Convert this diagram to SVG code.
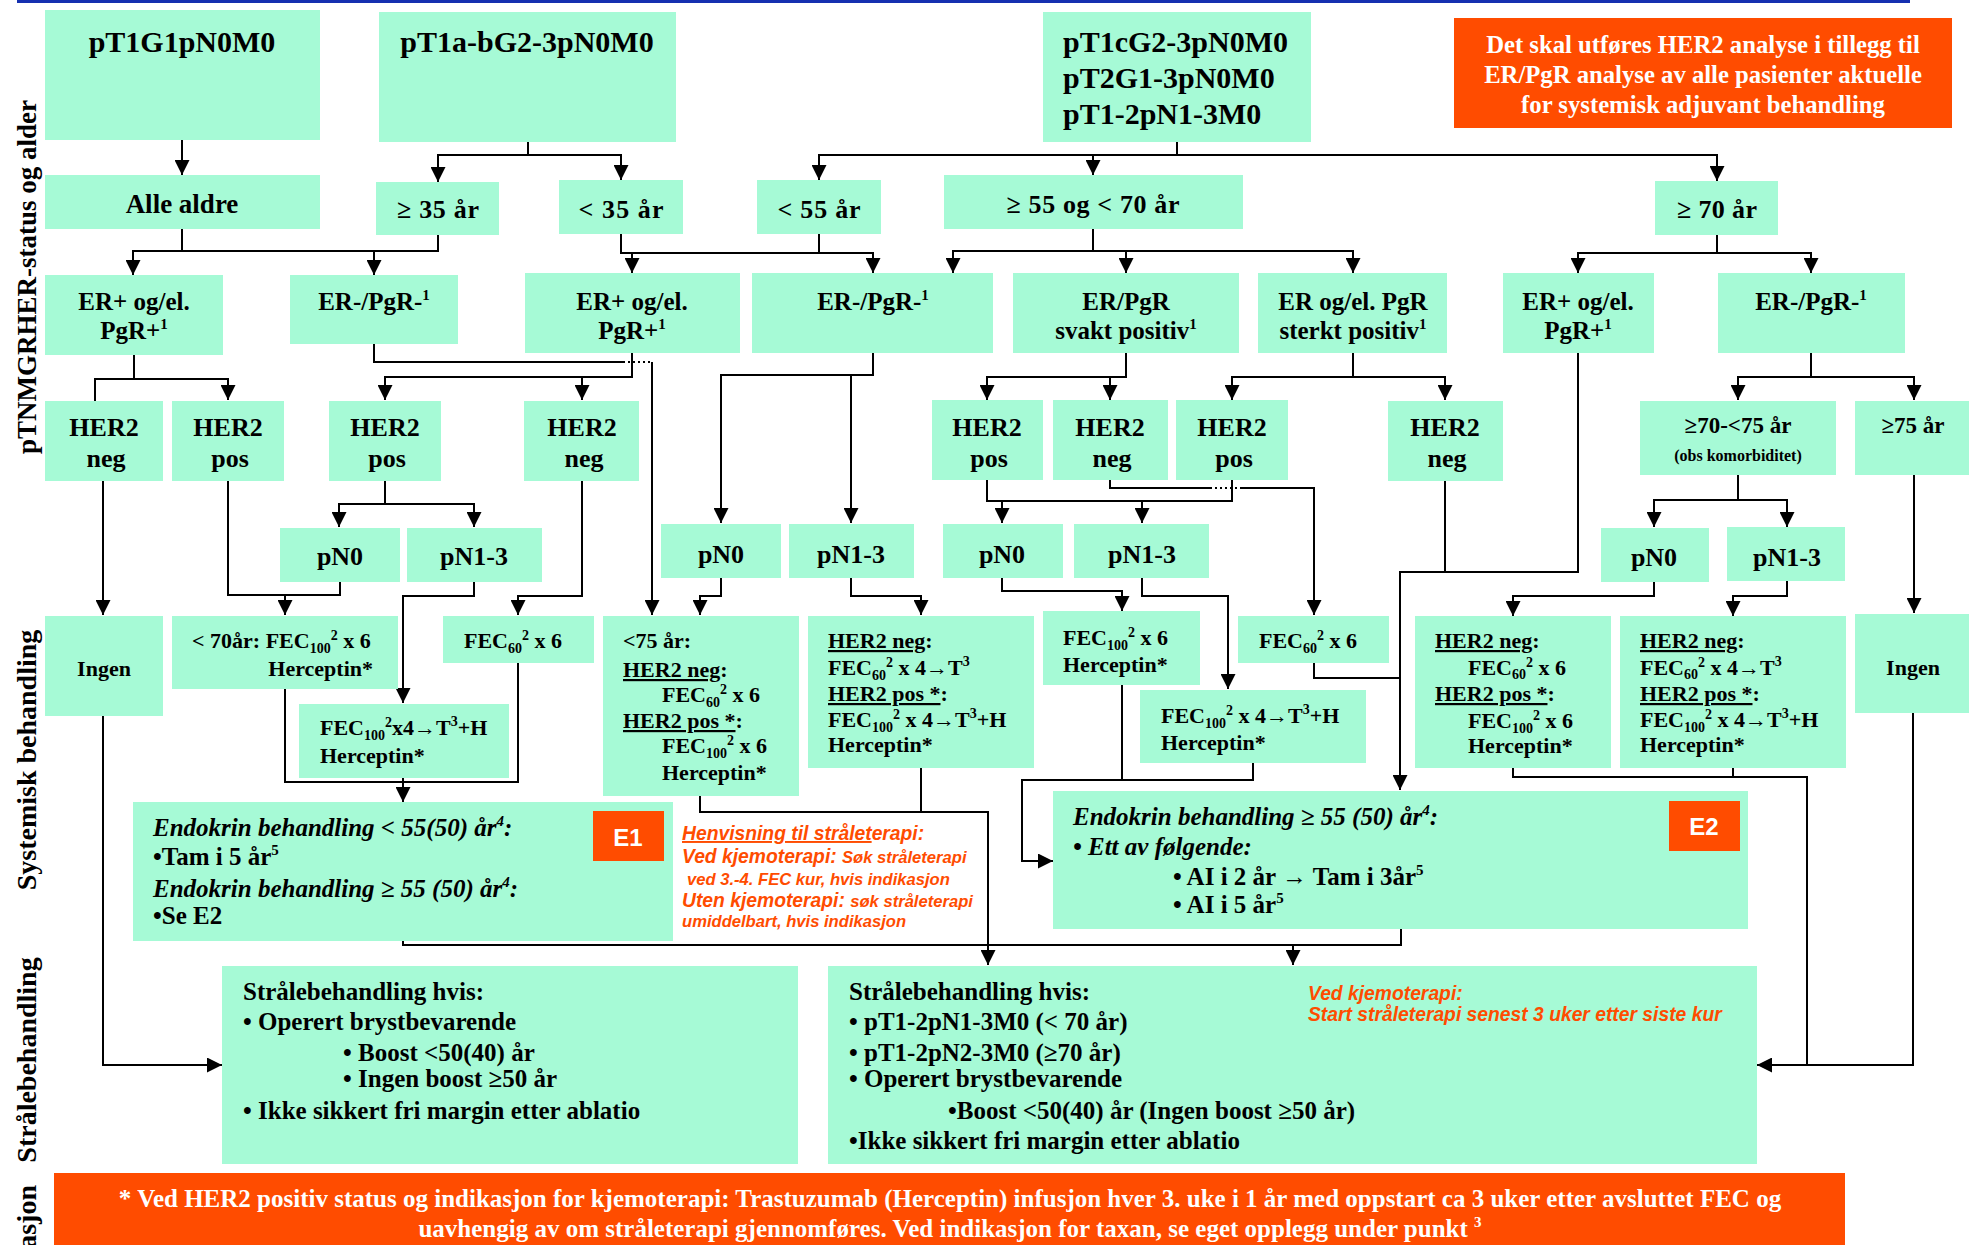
<svg xmlns="http://www.w3.org/2000/svg" width="1969" height="1245" viewBox="0 0 1969 1245">
<style>
.n{fill:#A6FAD6}
.o{fill:#FF4C00}
text{font-family:"Liberation Serif","Times New Roman",serif;font-weight:bold;fill:#000}
.c{text-anchor:middle}
.w{fill:#fff}
.i{font-style:italic}
.a{font-family:"Liberation Sans",Arial,sans-serif}
.r{fill:#FF4C00}
.t30{font-size:30px}.t27{font-size:27px}.t26{font-size:26px}.t25{font-size:25px}.t24{font-size:24.7px}.t22{font-size:22px}
.tb{font-size:25px}
.rl{font-size:19.3px}.rs{font-size:16.6px}
.u{text-decoration:underline}
#connectors path{fill:none;stroke:#000;stroke-width:2}
#connectors .dot{stroke-dasharray:2 3}
</style>
<defs>
<marker id="ar" markerUnits="userSpaceOnUse" markerWidth="15" markerHeight="15" refX="15" refY="7.5" orient="auto">
<path d="M0,0 L15,7.5 L0,15 z" fill="#000"/>
</marker>
</defs>
<rect x="17" y="0" width="1893" height="3" fill="#1530B0"/>

<g id="labels">
<text font-size="27" text-anchor="middle" transform="translate(36,277) rotate(-90)">pTNMGRHER-status og alder</text>
<text font-size="28" text-anchor="middle" transform="translate(36,760) rotate(-90)">Systemisk behandling</text>
<text font-size="28" text-anchor="middle" transform="translate(36,1060) rotate(-90)">Strålebehandling</text>
<text font-size="28" text-anchor="end" transform="translate(36,1185) rotate(-90)">asjon</text>
</g>

<g id="connectors">
<path marker-end="url(#ar)" d="M182,140 V175"/>
<path marker-end="url(#ar)" d="M528,142 V155 H438 V182"/>
<path marker-end="url(#ar)" d="M528,155 H621 V180"/>
<path marker-end="url(#ar)" d="M1177,142 V155 H819 V180"/>
<path marker-end="url(#ar)" d="M1093,155 V175"/>
<path marker-end="url(#ar)" d="M1177,155 H1717 V181"/>
<path marker-end="url(#ar)" d="M182,229 V251 H133 V275"/>
<path marker-end="url(#ar)" d="M182,251 H374 V275"/>
<path d="M438,235 V251 H374"/>
<path marker-end="url(#ar)" d="M621,234 V253 H632 V273"/>
<path marker-end="url(#ar)" d="M632,253 H873 V273"/>
<path d="M819,234 V253"/>
<path marker-end="url(#ar)" d="M1093,229 V251 H953 V273"/>
<path marker-end="url(#ar)" d="M1093,251 H1353 V273"/>
<path marker-end="url(#ar)" d="M1126,251 V273"/>
<path marker-end="url(#ar)" d="M1717,235 V253 H1578 V273"/>
<path marker-end="url(#ar)" d="M1717,253 H1811 V273"/>
<path d="M134,355 V379 H95 V401"/>
<path marker-end="url(#ar)" d="M134,379 H228 V400"/>
<path d="M374,344 V362 H623"/>
<path class="dot" d="M623,362 H652"/>
<path marker-end="url(#ar)" d="M652,362 V615"/>
<path marker-end="url(#ar)" d="M632,353 V377 H385 V400"/>
<path marker-end="url(#ar)" d="M582,377 V400"/>
<path marker-end="url(#ar)" d="M873,353 V375 H721 V523"/>
<path marker-end="url(#ar)" d="M851,375 V523"/>
<path marker-end="url(#ar)" d="M1126,353 V377 H987 V400"/>
<path marker-end="url(#ar)" d="M1110,377 V400"/>
<path marker-end="url(#ar)" d="M1353,353 V377 H1232 V400"/>
<path marker-end="url(#ar)" d="M1353,377 H1445 V400"/>
<path marker-end="url(#ar)" d="M1578,353 V572 H1400 V790"/>
<path marker-end="url(#ar)" d="M1811,353 V377 H1738 V400"/>
<path marker-end="url(#ar)" d="M1811,377 H1914 V400"/>
<path marker-end="url(#ar)" d="M103,481 V615"/>
<path d="M228,481 V595 H340 V582"/>
<path marker-end="url(#ar)" d="M285,595 V615"/>
<path marker-end="url(#ar)" d="M385,481 V504 H339 V527"/>
<path marker-end="url(#ar)" d="M385,504 H474 V527"/>
<path marker-end="url(#ar)" d="M582,481 V596 H518 V615"/>
<path marker-end="url(#ar)" d="M474,582 V596 H403 V703"/>
<path d="M285,689 V782 H518 V663"/>
<path marker-end="url(#ar)" d="M403,778 V802"/>
<path marker-end="url(#ar)" d="M721,578 V596 H700 V615"/>
<path marker-end="url(#ar)" d="M851,578 V596 H921 V615"/>
<path marker-end="url(#ar)" d="M700,796 V812 H988 V965"/>
<path d="M921,768 V812"/>
<path d="M987,480 V501 H1232 V480"/>
<path marker-end="url(#ar)" d="M1002,501 V523"/>
<path marker-end="url(#ar)" d="M1142,501 V523"/>
<path d="M1110,480 V488 H1210"/>
<path class="dot" d="M1210,488 H1242"/>
<path marker-end="url(#ar)" d="M1242,488 H1314 V615"/>
<path marker-end="url(#ar)" d="M1002,578 V591 H1122 V611"/>
<path marker-end="url(#ar)" d="M1142,578 V596 H1228 V689"/>
<path marker-end="url(#ar)" d="M1122,685 V780 H1022 V861 H1053"/>
<path d="M1253,763 V780 H1122"/>
<path d="M1445,481 V572 H1400"/>
<path d="M1314,663 V678 H1400"/>
<path marker-end="url(#ar)" d="M1738,475 V500 H1654 V527"/>
<path marker-end="url(#ar)" d="M1738,500 H1787 V527"/>
<path marker-end="url(#ar)" d="M1914,475 V613"/>
<path marker-end="url(#ar)" d="M1654,582 V596 H1513 V616"/>
<path marker-end="url(#ar)" d="M1787,581 V596 H1733 V616"/>
<path marker-end="url(#ar)" d="M1513,768 V777 H1807 V1065 H1757"/>
<path d="M1733,768 V777"/>
<path d="M1913,713 V1065 H1807"/>
<path marker-end="url(#ar)" d="M103,716 V1065 H222"/>
<path d="M403,941 V945 H1401 V929"/>
<path marker-end="url(#ar)" d="M1293,945 V965"/>
</g>

<g id="n_pT1G1"><rect class="n" x="45" y="10" width="275" height="130"/><text class="c t30" x="182" y="52">pT1G1pN0M0</text></g>
<g id="n_pT1ab"><rect class="n" x="379" y="12" width="297" height="130"/><text class="c t30" x="527" y="52">pT1a-bG2-3pN0M0</text></g>
<g id="n_pT1c"><rect class="n" x="1043" y="12" width="268" height="130"/>
<text class="t30" x="1063" y="52">pT1cG2-3pN0M0</text>
<text class="t30" x="1063" y="88">pT2G1-3pN0M0</text>
<text class="t30" x="1063" y="124">pT1-2pN1-3M0</text></g>
<g id="n_info"><rect class="o" x="1454" y="18" width="498" height="110"/>
<text class="c t24 w" x="1703" y="53">Det skal utføres HER2 analyse i tillegg til</text>
<text class="c t24 w" x="1703" y="83">ER/PgR analyse av alle pasienter aktuelle</text>
<text class="c t24 w" x="1703" y="113">for systemisk adjuvant behandling</text></g>

<g id="n_alle"><rect class="n" x="45" y="175" width="275" height="54"/><text class="c t27" x="182" y="213">Alle aldre</text></g>
<g id="n_ge35"><rect class="n" x="376" y="182" width="123" height="53"/><text class="c t26" x="438" y="218" textLength="82" lengthAdjust="spacing">≥ 35 år</text></g>
<g id="n_lt35"><rect class="n" x="559" y="180" width="124" height="54"/><text class="c t26" x="621" y="218" textLength="85" lengthAdjust="spacing">&lt; 35 år</text></g>
<g id="n_lt55"><rect class="n" x="757" y="180" width="124" height="54"/><text class="c t26" x="819" y="218" textLength="83" lengthAdjust="spacing">&lt; 55 år</text></g>
<g id="n_55_70"><rect class="n" x="944" y="175" width="299" height="54"/><text class="c t26" x="1093" y="213" textLength="173" lengthAdjust="spacing">≥ 55 og &lt; 70 år</text></g>
<g id="n_ge70"><rect class="n" x="1655" y="181" width="123" height="54"/><text class="c t26" x="1717" y="218" textLength="80" lengthAdjust="spacing">≥ 70 år</text></g>

<g id="n_erp1"><rect class="n" x="45" y="275" width="178" height="80"/><text class="c t25" x="134" y="310">ER+ og/el.</text><text class="c t25" x="134" y="339">PgR+<tspan font-size="15" dy="-10">1</tspan></text></g>
<g id="n_ern1"><rect class="n" x="290" y="275" width="168" height="69"/><text class="c t25" x="374" y="310">ER-/PgR-<tspan font-size="15" dy="-10">1</tspan></text></g>
<g id="n_erp2"><rect class="n" x="525" y="273" width="215" height="80"/><text class="c t25" x="632" y="310">ER+ og/el.</text><text class="c t25" x="632" y="339">PgR+<tspan font-size="15" dy="-10">1</tspan></text></g>
<g id="n_ern2"><rect class="n" x="752" y="273" width="241" height="80"/><text class="c t25" x="873" y="310">ER-/PgR-<tspan font-size="15" dy="-10">1</tspan></text></g>
<g id="n_svakt"><rect class="n" x="1013" y="273" width="226" height="80"/><text class="c t25" x="1126" y="310">ER/PgR</text><text class="c t25" x="1126" y="339">svakt positiv<tspan font-size="15" dy="-10">1</tspan></text></g>
<g id="n_sterkt"><rect class="n" x="1258" y="273" width="189" height="80"/><text class="c t25" x="1353" y="310">ER og/el. PgR</text><text class="c t25" x="1353" y="339">sterkt positiv<tspan font-size="15" dy="-10">1</tspan></text></g>
<g id="n_erp3"><rect class="n" x="1503" y="273" width="151" height="80"/><text class="c t25" x="1578" y="310">ER+ og/el.</text><text class="c t25" x="1578" y="339">PgR+<tspan font-size="15" dy="-10">1</tspan></text></g>
<g id="n_ern3"><rect class="n" x="1718" y="273" width="187" height="80"/><text class="c t25" x="1811" y="310">ER-/PgR-<tspan font-size="15" dy="-10">1</tspan></text></g>

<g id="n_h1"><rect class="n" x="45" y="401" width="118" height="80"/><text class="c t26" x="104" y="436">HER2</text><text class="c t26" x="106" y="467">neg</text></g>
<g id="n_h2"><rect class="n" x="172" y="401" width="112" height="80"/><text class="c t26" x="228" y="436">HER2</text><text class="c t26" x="230" y="467">pos</text></g>
<g id="n_h3"><rect class="n" x="329" y="401" width="112" height="80"/><text class="c t26" x="385" y="436">HER2</text><text class="c t26" x="387" y="467">pos</text></g>
<g id="n_h4"><rect class="n" x="524" y="401" width="115" height="80"/><text class="c t26" x="582" y="436">HER2</text><text class="c t26" x="584" y="467">neg</text></g>
<g id="n_h5"><rect class="n" x="932" y="400" width="111" height="80"/><text class="c t26" x="987" y="436">HER2</text><text class="c t26" x="989" y="467">pos</text></g>
<g id="n_h6"><rect class="n" x="1053" y="400" width="115" height="80"/><text class="c t26" x="1110" y="436">HER2</text><text class="c t26" x="1112" y="467">neg</text></g>
<g id="n_h7"><rect class="n" x="1176" y="400" width="112" height="80"/><text class="c t26" x="1232" y="436">HER2</text><text class="c t26" x="1234" y="467">pos</text></g>
<g id="n_h8"><rect class="n" x="1388" y="401" width="115" height="80"/><text class="c t26" x="1445" y="436">HER2</text><text class="c t26" x="1447" y="467">neg</text></g>
<g id="n_70_75"><rect class="n" x="1640" y="401" width="196" height="74"/><text class="c" font-size="23" x="1738" y="433">≥70-&lt;75 år</text><text class="c" font-size="16" x="1738" y="461">(obs komorbiditet)</text></g>
<g id="n_ge75"><rect class="n" x="1855" y="401" width="114" height="74"/><text class="c" font-size="23" x="1913" y="433">≥75 år</text></g>

<g id="n_pn0_1"><rect class="n" x="280" y="528" width="120" height="54"/><text class="c t26" x="340" y="565">pN0</text></g>
<g id="n_pn13_1"><rect class="n" x="407" y="528" width="135" height="54"/><text class="c t26" x="474" y="565">pN1-3</text></g>
<g id="n_pn0_2"><rect class="n" x="661" y="524" width="120" height="54"/><text class="c t26" x="721" y="563">pN0</text></g>
<g id="n_pn13_2"><rect class="n" x="789" y="524" width="125" height="54"/><text class="c t26" x="851" y="563">pN1-3</text></g>
<g id="n_pn0_3"><rect class="n" x="943" y="524" width="120" height="54"/><text class="c t26" x="1002" y="563">pN0</text></g>
<g id="n_pn13_3"><rect class="n" x="1074" y="524" width="135" height="54"/><text class="c t26" x="1142" y="563">pN1-3</text></g>
<g id="n_pn0_4"><rect class="n" x="1601" y="528" width="108" height="54"/><text class="c t26" x="1654" y="566">pN0</text></g>
<g id="n_pn13_4"><rect class="n" x="1727" y="527" width="118" height="54"/><text class="c t26" x="1787" y="566">pN1-3</text></g>

<g id="n_ingen1"><rect class="n" x="45" y="616" width="118" height="100"/><text class="c t22" x="104" y="676">Ingen</text></g>
<g id="n_lt70"><rect class="n" x="172" y="616" width="226" height="73"/>
<text class="t22" x="192" y="648">&lt; 70år: FEC<tspan font-size="14" dy="5">100</tspan><tspan font-size="14" dy="-13">2</tspan><tspan dy="8"> x 6</tspan></text>
<text class="t22" x="373" y="676" text-anchor="end">Herceptin*</text></g>
<g id="n_fec60_1"><rect class="n" x="443" y="616" width="151" height="47"/><text class="c t22" x="513" y="648">FEC<tspan font-size="14" dy="5">60</tspan><tspan font-size="14" dy="-13">2</tspan><tspan dy="8"> x 6</tspan></text></g>
<g id="n_fec100x4_1"><rect class="n" x="299" y="704" width="210" height="74"/>
<text class="t22" x="320" y="735">FEC<tspan font-size="14" dy="5">100</tspan><tspan font-size="14" dy="-13">2</tspan><tspan dy="8">x4→T</tspan><tspan font-size="14" dy="-9">3</tspan><tspan dy="9">+H</tspan></text>
<text class="t22" x="320" y="763">Herceptin*</text></g>
<g id="n_lt75"><rect class="n" x="603" y="616" width="196" height="180"/>
<text class="t22" x="623" y="648">&lt;75 år:</text>
<text class="t22" x="623" y="677"><tspan class="u">HER2 neg</tspan>:</text>
<text class="t22" x="662" y="702">FEC<tspan font-size="14" dy="5">60</tspan><tspan font-size="14" dy="-13">2</tspan><tspan dy="8"> x 6</tspan></text>
<text class="t22" x="623" y="728"><tspan class="u">HER2 pos *</tspan>:</text>
<text class="t22" x="662" y="753">FEC<tspan font-size="14" dy="5">100</tspan><tspan font-size="14" dy="-13">2</tspan><tspan dy="8"> x 6</tspan></text>
<text class="t22" x="662" y="780">Herceptin*</text></g>
<g id="n_her2_2"><rect class="n" x="808" y="616" width="226" height="152"/>
<text class="t22" x="828" y="648"><tspan class="u">HER2 neg</tspan>:</text>
<text class="t22" x="828" y="675">FEC<tspan font-size="14" dy="5">60</tspan><tspan font-size="14" dy="-13">2</tspan><tspan dy="8"> x 4→T</tspan><tspan font-size="14" dy="-9">3</tspan></text>
<text class="t22" x="828" y="701"><tspan class="u">HER2 pos *</tspan>:</text>
<text class="t22" x="828" y="727">FEC<tspan font-size="14" dy="5">100</tspan><tspan font-size="14" dy="-13">2</tspan><tspan dy="8"> x 4→T</tspan><tspan font-size="14" dy="-9">3</tspan><tspan dy="9">+H</tspan></text>
<text class="t22" x="828" y="752">Herceptin*</text></g>
<g id="n_fec100x6_3"><rect class="n" x="1043" y="611" width="157" height="74"/>
<text class="t22" x="1063" y="645">FEC<tspan font-size="14" dy="5">100</tspan><tspan font-size="14" dy="-13">2</tspan><tspan dy="8"> x 6</tspan></text>
<text class="t22" x="1063" y="672">Herceptin*</text></g>
<g id="n_fec60_3"><rect class="n" x="1238" y="616" width="151" height="47"/><text class="c t22" x="1308" y="648">FEC<tspan font-size="14" dy="5">60</tspan><tspan font-size="14" dy="-13">2</tspan><tspan dy="8"> x 6</tspan></text></g>
<g id="n_fec100x4_3"><rect class="n" x="1140" y="690" width="226" height="73"/>
<text class="t22" x="1161" y="723">FEC<tspan font-size="14" dy="5">100</tspan><tspan font-size="14" dy="-13">2</tspan><tspan dy="8"> x 4→T</tspan><tspan font-size="14" dy="-9">3</tspan><tspan dy="9">+H</tspan></text>
<text class="t22" x="1161" y="750">Herceptin*</text></g>
<g id="n_her2_4a"><rect class="n" x="1415" y="616" width="196" height="152"/>
<text class="t22" x="1435" y="648"><tspan class="u">HER2 neg</tspan>:</text>
<text class="t22" x="1468" y="675">FEC<tspan font-size="14" dy="4">60</tspan><tspan font-size="14" dy="-12">2</tspan><tspan dy="8"> x 6</tspan></text>
<text class="t22" x="1435" y="701"><tspan class="u">HER2 pos *</tspan>:</text>
<text class="t22" x="1468" y="728">FEC<tspan font-size="14" dy="5">100</tspan><tspan font-size="14" dy="-13">2</tspan><tspan dy="8"> x 6</tspan></text>
<text class="t22" x="1468" y="753">Herceptin*</text></g>
<g id="n_her2_4b"><rect class="n" x="1620" y="616" width="226" height="152"/>
<text class="t22" x="1640" y="648"><tspan class="u">HER2 neg</tspan>:</text>
<text class="t22" x="1640" y="675">FEC<tspan font-size="14" dy="4">60</tspan><tspan font-size="14" dy="-12">2</tspan><tspan dy="8"> x 4→T</tspan><tspan font-size="14" dy="-9">3</tspan></text>
<text class="t22" x="1640" y="701"><tspan class="u">HER2 pos *</tspan>:</text>
<text class="t22" x="1640" y="727">FEC<tspan font-size="14" dy="5">100</tspan><tspan font-size="14" dy="-13">2</tspan><tspan dy="8"> x 4→T</tspan><tspan font-size="14" dy="-9">3</tspan><tspan dy="9">+H</tspan></text>
<text class="t22" x="1640" y="752">Herceptin*</text></g>
<g id="n_ingen2"><rect class="n" x="1855" y="614" width="114" height="99"/><text class="c t22" x="1913" y="675">Ingen</text></g>

<g id="n_E1"><rect class="n" x="133" y="802" width="540" height="139"/>
<text class="tb i" x="153" y="836">Endokrin behandling &lt; 55(50) år<tspan font-size="15" dy="-10">4</tspan><tspan dy="10">:</tspan></text>
<text class="tb" x="153" y="865">•Tam i 5 år<tspan font-size="15" dy="-10">5</tspan></text>
<text class="tb i" x="153" y="897">Endokrin behandling  ≥ 55 (50) år<tspan font-size="15" dy="-10">4</tspan><tspan dy="10">:</tspan></text>
<text class="tb" x="153" y="924">•Se E2</text>
<rect class="o" x="593" y="811" width="71" height="50"/>
<text class="a c w" font-size="24" x="628" y="846">E1</text></g>

<g id="n_henvisning">
<text class="a i r rl" x="682" y="840"><tspan class="u">Henvisning til strålet</tspan>erapi:</text>
<text class="a i r rl" x="682" y="863">Ved kjemoterapi: <tspan class="rs">Søk stråleterapi</tspan></text>
<text class="a i r rs" x="687" y="885">ved 3.-4. FEC kur, hvis indikasjon</text>
<text class="a i r rl" x="682" y="907">Uten kjemoterapi: <tspan class="rs">søk stråleterapi</tspan></text>
<text class="a i r rs" x="682" y="927">umiddelbart, hvis indikasjon</text>
</g>

<g id="n_E2"><rect class="n" x="1053" y="791" width="695" height="138"/>
<text class="tb i" x="1073" y="825">Endokrin behandling  ≥ 55 (50) år<tspan font-size="15" dy="-10">4</tspan><tspan dy="10">:</tspan></text>
<text class="tb i" x="1073" y="855">• Ett av følgende:</text>
<text class="tb" x="1173" y="885">• AI i 2 år → Tam i 3år<tspan font-size="15" dy="-10">5</tspan></text>
<text class="tb" x="1173" y="913">• AI i 5 år<tspan font-size="15" dy="-10">5</tspan></text>
<rect class="o" x="1669" y="801" width="71" height="50"/>
<text class="a c w" font-size="24" x="1704" y="835">E2</text></g>

<g id="n_straale1"><rect class="n" x="222" y="966" width="576" height="198"/>
<text class="tb" x="243" y="1000">Strålebehandling hvis:</text>
<text class="tb" x="243" y="1030">• Operert brystbevarende</text>
<text class="tb" x="343" y="1061">• Boost &lt;50(40) år</text>
<text class="tb" x="343" y="1087">• Ingen boost ≥50 år</text>
<text class="tb" x="243" y="1119">• Ikke sikkert fri margin etter ablatio</text></g>

<g id="n_straale2"><rect class="n" x="828" y="966" width="929" height="198"/>
<text class="tb" x="849" y="1000">Strålebehandling hvis:</text>
<text class="tb" x="849" y="1030">• pT1-2pN1-3M0 (&lt; 70 år)</text>
<text class="tb" x="849" y="1061">• pT1-2pN2-3M0 (≥70 år)</text>
<text class="tb" x="849" y="1087">• Operert brystbevarende</text>
<text class="tb" x="948" y="1119">•Boost &lt;50(40) år (Ingen boost ≥50 år)</text>
<text class="tb" x="849" y="1149">•Ikke sikkert fri margin etter ablatio</text>
<text class="a i r rl" x="1308" y="1000">Ved kjemoterapi:</text>
<text class="a i r rl" x="1308" y="1021">Start stråleterapi senest 3 uker etter siste kur</text></g>

<g id="n_footer"><rect class="o" x="54" y="1173" width="1791" height="72"/>
<text class="c tb w" x="950" y="1207">* Ved HER2 positiv status og indikasjon for kjemoterapi: Trastuzumab (Herceptin) infusjon hver 3. uke i 1 år med oppstart ca 3 uker etter avsluttet  FEC og</text>
<text class="c tb w" x="950" y="1237">uavhengig av om stråleterapi gjennomføres. Ved indikasjon for taxan, se eget opplegg under punkt <tspan font-size="15" dy="-10">3</tspan></text></g>
</svg>
